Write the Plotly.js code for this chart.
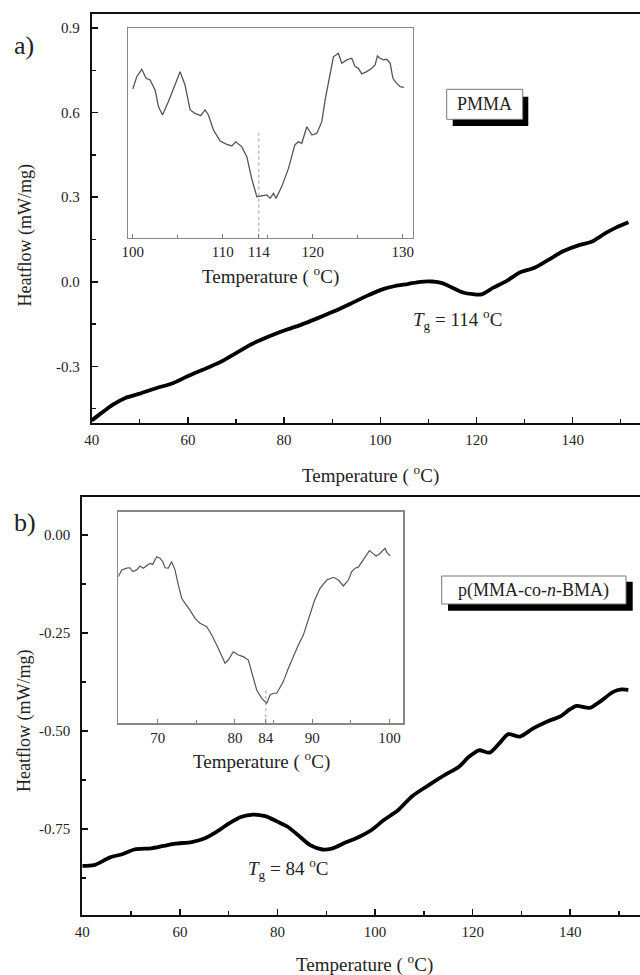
<!DOCTYPE html>
<html>
<head>
<meta charset="utf-8">
<script src="https://cdn.plot.ly/plotly-3.0.1.min.js"></script>
<style>html,body{margin:0;padding:0;background:#fff;}#chart{width:640px;height:975px;}</style>
</head>
<body>
<div id="chart"></div>
<script>
// ---------- Data ----------
// Panel a: PMMA main DSC curve
const aTemp = [40, 42, 44.4, 47, 50, 53.5, 57, 59.7, 63.1, 66.6, 70, 73.4, 76.8, 80.2, 83.6, 87, 90.4, 93.8, 97.2, 100.6, 103.1, 105.7, 108.3, 110.8, 112.9, 115.1, 117.2, 119.3, 121, 123.5, 126.3, 129, 131.8, 134.6, 138, 141.5, 143.6, 144.6, 147.1, 149.1, 151.6];
const aHeat = [-0.492, -0.466, -0.436, -0.412, -0.397, -0.377, -0.359, -0.337, -0.312, -0.286, -0.253, -0.22, -0.194, -0.172, -0.152, -0.129, -0.105, -0.078, -0.05, -0.026, -0.015, -0.008, 0.0, 0.001, -0.005, -0.022, -0.038, -0.044, -0.045, -0.021, 0.003, 0.033, 0.048, 0.074, 0.108, 0.131, 0.14, 0.148, 0.175, 0.193, 0.211];
// Panel a inset (relative heat flow, no scale shown)
const aInsetTemp = [100.0, 100.44, 101.0, 101.48, 101.92, 102.48, 102.85, 103.3, 103.96, 104.7, 105.26, 105.8, 106.37, 106.9, 107.55, 108.03, 108.4, 108.96, 109.7, 110.44, 111.0, 111.44, 112.1, 112.67, 113.2, 113.78, 114.33, 114.9, 115.26, 115.63, 115.92, 116.55, 117.3, 118.0, 118.4, 118.78, 119.33, 119.9, 120.44, 121.0, 121.37, 121.92, 122.29, 122.84, 123.22, 123.78, 124.33, 124.7, 125.07, 125.44, 126.0, 126.55, 126.92, 127.18, 127.48, 127.85, 128.22, 128.6, 128.9, 129.33, 129.7, 130.14];
const aInsetHeat = [0.710, 0.769, 0.804, 0.761, 0.753, 0.705, 0.626, 0.586, 0.650, 0.729, 0.793, 0.729, 0.610, 0.594, 0.583, 0.610, 0.586, 0.514, 0.462, 0.446, 0.438, 0.458, 0.435, 0.387, 0.284, 0.196, 0.201, 0.204, 0.188, 0.212, 0.188, 0.244, 0.331, 0.443, 0.458, 0.451, 0.530, 0.490, 0.498, 0.554, 0.658, 0.793, 0.864, 0.881, 0.833, 0.849, 0.857, 0.817, 0.809, 0.782, 0.793, 0.809, 0.825, 0.868, 0.857, 0.849, 0.852, 0.833, 0.761, 0.737, 0.721, 0.718];
const aTg = 114;
const aTgMarkerHeat = [0, 0.5];

// Panel b: p(MMA-co-n-BMA) main DSC curve
const bTemp = [40, 42.4, 45.7, 48.2, 50.7, 54.1, 56.6, 59.1, 62.4, 65, 67.5, 70, 72.5, 75, 77.5, 80, 82.1, 84.2, 86.7, 89.2, 91.3, 93.8, 96.7, 99.2, 101.8, 104.7, 107.6, 111, 114.3, 117.2, 119.3, 121.3, 123.5, 125.5, 127.3, 129.7, 132.4, 135.2, 137.9, 139.9, 141.3, 144, 146.1, 148.8, 150.5, 151.9];
const bHeat = [-0.844, -0.842, -0.822, -0.814, -0.802, -0.799, -0.793, -0.787, -0.783, -0.774, -0.757, -0.736, -0.719, -0.713, -0.717, -0.731, -0.744, -0.765, -0.791, -0.802, -0.799, -0.785, -0.77, -0.753, -0.727, -0.702, -0.666, -0.638, -0.612, -0.591, -0.565, -0.549, -0.555, -0.531, -0.508, -0.514, -0.493, -0.476, -0.463, -0.445, -0.436, -0.441, -0.425, -0.4, -0.394, -0.395];
// Panel b inset
const bInsetTemp = [64.9, 65.34, 65.98, 66.41, 66.76, 67.28, 67.71, 68.13, 68.58, 69.0, 69.35, 69.87, 70.3, 70.65, 70.95, 71.37, 71.81, 72.24, 72.67, 73.11, 73.54, 74.18, 74.83, 75.48, 76.35, 77.0, 77.64, 78.29, 78.72, 79.15, 79.79, 80.44, 81.09, 81.74, 82.18, 82.82, 83.47, 84.12, 84.55, 84.97, 85.41, 85.84, 86.27, 86.92, 87.56, 88.21, 88.86, 89.51, 89.73, 90.3, 91.02, 91.89, 92.75, 93.4, 94.04, 94.69, 95.13, 95.56, 95.98, 96.42, 96.85, 97.41, 97.85, 98.28, 98.7, 99.14, 99.44, 99.66, 100.09];
const bInsetHeat = [0.693, 0.725, 0.733, 0.735, 0.717, 0.725, 0.743, 0.733, 0.745, 0.756, 0.751, 0.787, 0.780, 0.764, 0.735, 0.733, 0.764, 0.725, 0.654, 0.591, 0.567, 0.535, 0.496, 0.473, 0.457, 0.417, 0.370, 0.315, 0.284, 0.299, 0.338, 0.323, 0.315, 0.299, 0.244, 0.157, 0.118, 0.095, 0.134, 0.142, 0.142, 0.173, 0.197, 0.260, 0.315, 0.370, 0.417, 0.488, 0.520, 0.58, 0.638, 0.677, 0.690, 0.677, 0.649, 0.677, 0.717, 0.733, 0.738, 0.764, 0.787, 0.816, 0.803, 0.791, 0.800, 0.819, 0.827, 0.808, 0.791];
const bTg = 84;
const bTgMarkerHeat = [0, 0.167];

// Tick values / labels
const mainXTicks = [40, 60, 80, 100, 120, 140];
const mainXMinor = [50, 70, 90, 110, 130, 150];
const aYTicks = [-0.3, 0.0, 0.3, 0.6, 0.9];
const aYTickText = ["-0.3", "0.0", "0.3", "0.6", "0.9"];
const aYMinor = [-0.45, -0.15, 0.15, 0.45, 0.75];
const bYTicks = [-0.75, -0.5, -0.25, 0.0];
const bYTickText = ["-0.75", "-0.50", "-0.25", "0.00"];
const bYMinor = [-0.875, -0.625, -0.375, -0.125];
const aInsetXTicks = [100, 110, 114, 120, 130];
const aInsetXMinor = [105, 115, 125];
const bInsetXTicks = [70, 80, 84, 90, 100];
const bInsetXMinor = [75, 85, 95];

// ---------- Layout helpers ----------
const W = 640, H = 975;
const px = x => x / W;
const py = y => 1 - y / H;
const FONT = "Liberation Serif, Times New Roman, serif";
const TXT = "#222";

const traces = [
  {x: aTemp, y: aHeat, xaxis: 'x', yaxis: 'y', mode: 'lines', line: {color: '#000', width: 3.8, shape: 'spline', smoothing: 0.7}, hoverinfo: 'skip'},
  {x: aInsetTemp, y: aInsetHeat, xaxis: 'x2', yaxis: 'y2', mode: 'lines', line: {color: '#555', width: 1.3}, hoverinfo: 'skip'},
  {x: [aTg, aTg], y: aTgMarkerHeat, xaxis: 'x2', yaxis: 'y2', mode: 'lines', line: {color: '#888', width: 0.8, dash: 'dot'}, hoverinfo: 'skip'},
  {x: bTemp, y: bHeat, xaxis: 'x3', yaxis: 'y3', mode: 'lines', line: {color: '#000', width: 3.8, shape: 'spline', smoothing: 0.7}, hoverinfo: 'skip'},
  {x: bInsetTemp, y: bInsetHeat, xaxis: 'x4', yaxis: 'y4', mode: 'lines', line: {color: '#555', width: 1.2}, hoverinfo: 'skip'},
  {x: [bTg, bTg], y: bTgMarkerHeat, xaxis: 'x4', yaxis: 'y4', mode: 'lines', line: {color: '#888', width: 0.8, dash: 'dot'}, hoverinfo: 'skip'}
];

function mainX(domain, range, anchor) {
  return {domain, range, anchor, tickmode: 'array', tickvals: mainXTicks, ticks: 'inside', ticklen: 6, tickwidth: 1.5, tickcolor: '#111',
    minor: {tickmode: 'array', tickvals: mainXMinor, ticks: 'inside', ticklen: 4, tickwidth: 1.3, tickcolor: '#111'},
    showline: true, linewidth: 2, linecolor: '#111', mirror: true, showgrid: false, zeroline: false,
    tickfont: {family: FONT, size: 15, color: TXT}, ticklabelstandoff: 2, fixedrange: true};
}
function mainY(domain, range, anchor, vals, text, minor) {
  return {domain, range, anchor, tickmode: 'array', tickvals: vals, ticktext: text, ticks: 'inside', ticklen: 6, tickwidth: 1.5, tickcolor: '#111',
    minor: {tickmode: 'array', tickvals: minor, ticks: 'inside', ticklen: 4, tickwidth: 1.3, tickcolor: '#111'},
    showline: true, linewidth: 2, linecolor: '#111', mirror: false, showgrid: false, zeroline: false,
    tickfont: {family: FONT, size: 15, color: TXT}, ticklabelstandoff: 7, fixedrange: true};
}
function insetX(domain, range, anchor, vals, minor) {
  return {domain, range, anchor, tickmode: 'array', tickvals: vals, ticks: 'inside', ticklen: 4, tickwidth: 1, tickcolor: '#777',
    minor: {tickmode: 'array', tickvals: minor, ticks: 'inside', ticklen: 3, tickwidth: 1, tickcolor: '#777'},
    showline: true, linewidth: 1.3, linecolor: '#888', mirror: true, showgrid: false, zeroline: false,
    tickfont: {family: FONT, size: 15, color: TXT}, ticklabelstandoff: 0, fixedrange: true};
}
function insetY(domain, anchor) {
  return {domain, range: [0, 1], anchor, showticklabels: false, ticks: '', showline: true, linewidth: 1.3, linecolor: '#888',
    mirror: true, showgrid: false, zeroline: false, fixedrange: true};
}

function ann(text, x, y, size, extra) {
  return Object.assign({text, xref: 'paper', yref: 'paper', x: px(x), y: py(y), xanchor: 'center', yanchor: 'middle',
    showarrow: false, font: {family: FONT, size, color: TXT}}, extra || {});
}

const tempTitle = "Temperature ( <sup>o</sup>C)";
const layout = {
  width: W, height: H,
  margin: {l: 0, r: 0, t: 0, b: 0},
  paper_bgcolor: '#fff', plot_bgcolor: 'rgba(0,0,0,0)',
  showlegend: false,
  xaxis: mainX([px(91.7), 1], [40, 154], 'y'),
  yaxis: mainY([py(422.7), py(14)], [-0.5, 0.95], 'x', aYTicks, aYTickText, aYMinor),
  xaxis2: insetX([px(128.3), px(412.7)], [99.5, 131.1], 'y2', aInsetXTicks, aInsetXMinor),
  yaxis2: insetY([py(237.7), py(28.3)], 'x2'),
  xaxis3: mainX([px(82.3), 1], [40, 154.3], 'y3'),
  yaxis3: mainY([py(915), py(497.3)], [-0.969, 0.096], 'x3', bYTicks, bYTickText, bYMinor),
  xaxis4: insetX([px(118.3), px(403.3)], [64.9, 101.8], 'y4', bInsetXTicks, bInsetXMinor),
  yaxis4: insetY([py(723.3), py(511.7)], 'x4'),
  shapes: [
    {type: 'rect', xref: 'paper', yref: 'paper', x0: px(452.7), x1: px(528.3), y0: py(126), y1: py(96.7), fillcolor: '#000', line: {width: 0}},
    {type: 'rect', xref: 'paper', yref: 'paper', x0: px(446.7), x1: px(522.7), y0: py(119.3), y1: py(89.3), fillcolor: '#fff', line: {color: '#777', width: 1}},
    {type: 'rect', xref: 'paper', yref: 'paper', x0: px(448), x1: px(632.7), y0: py(610.7), y1: py(581.7), fillcolor: '#000', line: {width: 0}},
    {type: 'rect', xref: 'paper', yref: 'paper', x0: px(441.7), x1: px(626), y0: py(604), y1: py(576), fillcolor: '#fff', line: {color: '#777', width: 1}}
  ],
  annotations: [
    ann("a)", 24, 45, 26),
    ann("b)", 25, 522, 26),
    ann("Heatflow (mW/mg)", 25, 235.5, 18, {textangle: -90}),
    ann("Heatflow (mW/mg)", 24, 721, 18, {textangle: -90}),
    ann(tempTitle, 370, 474, 19),
    ann(tempTitle, 270, 276, 19),
    ann(tempTitle, 364, 963, 19),
    ann(tempTitle, 261, 760, 19),
    ann("<i>T</i><sub>g</sub> = 114 <sup>o</sup>C", 457, 320, 19),
    ann("<i>T</i><sub>g</sub> = 84 <sup>o</sup>C", 288, 868, 19),
    ann("PMMA", 484.7, 104.3, 18),
    ann("p(MMA-co-<i>n</i>-BMA)", 533.8, 590, 18)
  ]
};

Plotly.newPlot('chart', traces, layout, {staticPlot: true, displayModeBar: false});
</script>
</body>
</html>
